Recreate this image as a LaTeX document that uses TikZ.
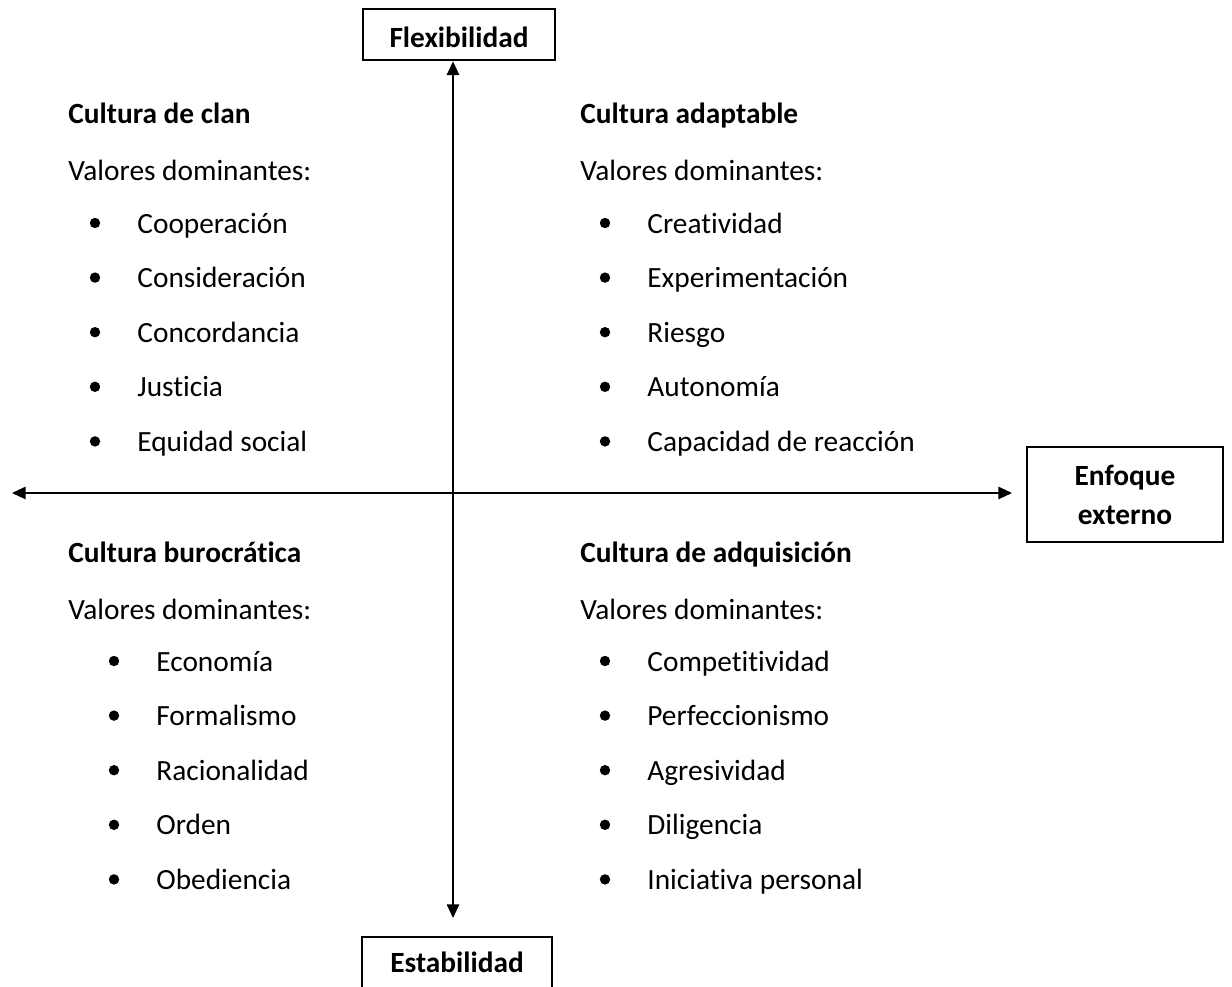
\documentclass[tikz,border=0pt]{standalone}
\usepackage{fontspec}
\setmainfont[Ligatures=NoCommon]{Carlito}
\usetikzlibrary{positioning,arrows.meta}
\newcommand{\quadfont}{\fontsize{14.67}{19.5}\selectfont}
\tikzstyle{axisbox}=[rectangle,draw=black,line width=1.4pt,font=\quadfont\bfseries,
align=center,inner sep=0pt]
\tikzstyle{head}=[font=\quadfont\bfseries,inner sep=0pt,anchor=base west]
\tikzstyle{value}=[font=\quadfont,inner sep=0pt]
\tikzstyle{item}=[font=\quadfont,inner sep=0pt,text height=10pt,text depth=0pt,
label={[circle,fill=black,inner sep=0pt,minimum size=5.2pt,text height=0pt,
text depth=0pt,label distance=18.2pt]left:{}}]

\begin{document}
\begin{tikzpicture}[x=0.5pt,y=-0.5pt,>={Triangle[length=6.8pt,width=6.2pt]}]
            \useasboundingbox (0,0) rectangle (1232,986);

            % AXIS BOXES

            \node[axisbox,minimum width=96pt,minimum height=25.5pt,text height=13pt,text depth=0pt] (flex) at (459,34.5) {Flexibilidad};
            \node[axisbox,minimum width=95pt,minimum height=25.5pt,text height=9.5pt,text depth=0pt] (estab) at (457,962.5) {Estabilidad};
            \node[axisbox,minimum width=98pt,minimum height=47.5pt] (enfoque) at (1125,494.5) {Enfoque\\externo};

            \coordinate (hleft) at (12,493);
            \coordinate (hright) at (1012,493);
            \coordinate (vbot) at (453,918);

            \draw[<->,line width=0.7pt] (hleft) -- (hright);
            \draw[<->,line width=0.7pt] (flex.south -| vbot) -- (vbot);

            % CLAN PART

            \node[head] (clan) at (68,123) {Cultura de clan};
            \node[value,below=28.5pt of clan.base west,anchor=base west] (vclan) {Valores dominantes:};
            \node[item,below=26.5pt of vclan.base west,xshift=34.5pt,anchor=base west] (c1) {Cooperación};
            \node[item,below=27.3pt of c1.base west,anchor=base west] (c2) {Consideración};
            \node[item,below=27.3pt of c2.base west,anchor=base west] (c3) {Concordancia};
            \node[item,below=27.3pt of c3.base west,anchor=base west] (c4) {Justicia};
            \node[item,below=27.3pt of c4.base west,anchor=base west] (c5) {Equidad social};

            % ADAPTABLE PART

            \node[head] (adapt) at (580,123) {Cultura adaptable};
            \node[value,below=28.5pt of adapt.base west,anchor=base west] (vadapt) {Valores dominantes:};
            \node[item,below=26.5pt of vadapt.base west,xshift=33.5pt,anchor=base west] (a1) {Creatividad};
            \node[item,below=27.3pt of a1.base west,anchor=base west] (a2) {Experimentación};
            \node[item,below=27.3pt of a2.base west,anchor=base west] (a3) {Riesgo};
            \node[item,below=27.3pt of a3.base west,anchor=base west] (a4) {Autonomía};
            \node[item,below=27.3pt of a4.base west,anchor=base west] (a5) {Capacidad de reacción};

            % BUROCRATICA PART

            \node[head] (buro) at (68,562) {Cultura burocrática};
            \node[value,below=28.5pt of buro.base west,anchor=base west] (vburo) {Valores dominantes:};
            \node[item,below=26pt of vburo.base west,xshift=44pt,anchor=base west] (b1) {Economía};
            \node[item,below=27.3pt of b1.base west,anchor=base west] (b2) {Formalismo};
            \node[item,below=27.3pt of b2.base west,anchor=base west] (b3) {Racionalidad};
            \node[item,below=27.3pt of b3.base west,anchor=base west] (b4) {Orden};
            \node[item,below=27.3pt of b4.base west,anchor=base west] (b5) {Obediencia};

            % ADQUISICION PART

            \node[head] (adq) at (580,562) {Cultura de adquisición};
            \node[value,below=28.5pt of adq.base west,anchor=base west] (vadq) {Valores dominantes:};
            \node[item,below=26pt of vadq.base west,xshift=33.5pt,anchor=base west] (q1) {Competitividad};
            \node[item,below=27.3pt of q1.base west,anchor=base west] (q2) {Perfeccionismo};
            \node[item,below=27.3pt of q2.base west,anchor=base west] (q3) {Agresividad};
            \node[item,below=27.3pt of q3.base west,anchor=base west] (q4) {Diligencia};
            \node[item,below=27.3pt of q4.base west,anchor=base west] (q5) {Iniciativa personal};

        \end{tikzpicture}
\end{document}
